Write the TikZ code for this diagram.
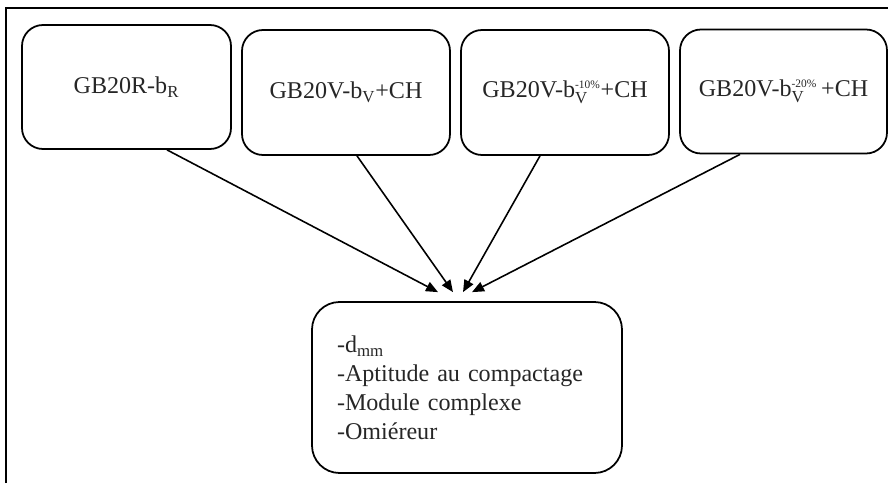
\documentclass[tikz,border=0pt]{standalone}
\usepackage{fontspec}
\setmainfont{Liberation Serif}
\usepackage{amsmath}
\usetikzlibrary{arrows.meta, positioning}

\begin{document}
\begin{tikzpicture}[>={Triangle[length=0.24cm, width=0.2cm]},
    mix/.style={draw, line width=1pt, rounded corners=0.42cm,
        minimum width=4.16cm, minimum height=2.48cm, inner sep=0pt,
        text=black!85, font=\fontsize{13.7}{16.5}\selectfont},
    link/.style={->, line width=0.9pt}]
  \useasboundingbox (0,0) rectangle (17.76,9.66);

  % Frame
  \draw[line width=1.2pt] (0.12,0) -- (0.12,9.5) -- (17.76,9.5);

  % Mixes
  \node[mix, minimum width=4.18cm] (gbr) at (2.53, 7.92) {GB20R-b\textsubscript{R}};
  \node[mix, minimum height=2.5cm] (gbv) at (6.92, 7.81) {GB20V-b\textsubscript{V}+CH};
  \node[mix, minimum height=2.5cm] (gbv10) at (11.30, 7.81)
    {GB20V-b$_{\mathrm{V}}^{\text{\fontsize{6.5}{7}\selectfont-10\%}}$+CH};
  \node[mix, minimum width=4.14cm] (gbv20) at (15.67, 7.83)
    {GB20V-b$_{\mathrm{V}}^{\text{\fontsize{6.5}{7}\selectfont-20\%}}$\,+CH};

  % Tests
  \node[mix, rounded corners=0.55cm, minimum width=6.2cm, minimum height=3.42cm,
        text width=5.2cm, inner xsep=0.5cm, align=left] (tests) at (9.34, 1.91)
    {-d\textsubscript{mm}\\
     -Aptitude au compactage\\
     -Module complexe\\
     -Omiéreur};

  % Arrows
  \draw[link] ([xshift=0.81cm]gbr.south) -- ([xshift=-0.58cm, yshift=0.18cm]tests.north);
  \draw[link] ([xshift=0.22cm]gbv.south) -- ([xshift=-0.28cm, yshift=0.18cm]tests.north);
  \draw[link] ([xshift=-0.5cm]gbv10.south) -- ([xshift=-0.08cm, yshift=0.18cm]tests.north);
  \draw[link] ([xshift=-0.87cm]gbv20.south) -- ([xshift=0.1cm, yshift=0.18cm]tests.north);
\end{tikzpicture}
\end{document}
